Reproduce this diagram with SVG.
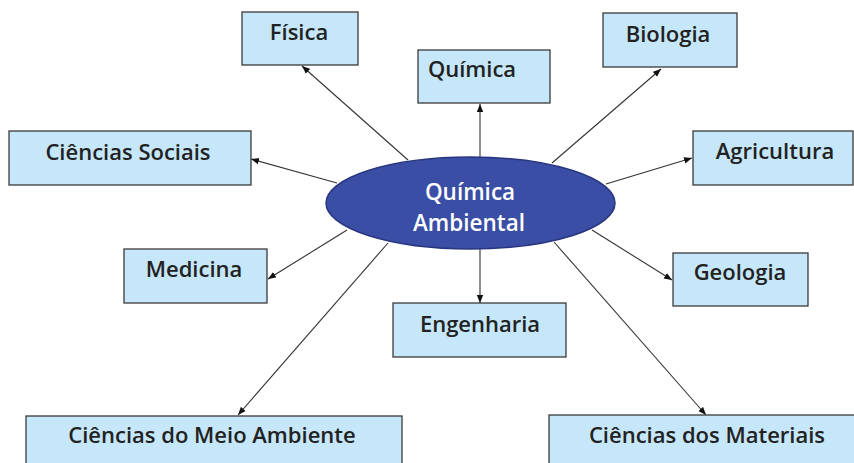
<svg xmlns="http://www.w3.org/2000/svg" width="854" height="463" viewBox="0 0 854 463">
<style>
.box{fill:#c6e7f9;stroke:#3a3a3a;stroke-width:1.3}
.t{font-family:"Open Sans","Liberation Sans",sans-serif;font-weight:600;font-size:22px;fill:#222;text-anchor:middle}
.w{fill:#fff;font-size:22.5px}
.c{stroke:#333;stroke-width:1.1;fill:none;marker-end:url(#ah)}
</style>
<defs>
<marker id="ah" viewBox="0 0 10 10" refX="10" refY="5" markerWidth="8" markerHeight="8" markerUnits="userSpaceOnUse" orient="auto">
<path d="M0,1 L10,5 L0,9 z" fill="#111"/>
</marker>
</defs>
<rect width="854" height="463" fill="#fff"/>
<g id="connectors">
<line class="c" x1="408" y1="160" x2="302" y2="66"/>
<line class="c" x1="337" y1="183" x2="251" y2="159"/>
<line class="c" x1="480" y1="157" x2="480" y2="104"/>
<line class="c" x1="552" y1="163" x2="661" y2="69"/>
<line class="c" x1="606" y1="184" x2="692" y2="158"/>
<line class="c" x1="347" y1="230" x2="268" y2="279"/>
<line class="c" x1="388" y1="243" x2="238" y2="415"/>
<line class="c" x1="480" y1="249" x2="480" y2="303"/>
<line class="c" x1="592" y1="230" x2="672" y2="280"/>
<line class="c" x1="554" y1="242" x2="706" y2="415"/>
</g>
<g id="fisica"><rect class="box" x="242" y="12" width="116" height="53"/><text class="t" x="299" y="40">Física</text></g>
<g id="quimica"><rect class="box" x="418" y="50" width="132" height="53"/><text class="t" x="472" y="77">Química</text></g>
<g id="biologia"><rect class="box" x="603" y="13" width="134" height="54"/><text class="t" x="668" y="42">Biologia</text></g>
<g id="ciencias-sociais"><rect class="box" x="9" y="131" width="242" height="54"/><text class="t" x="128" y="160">Ciências Sociais</text></g>
<g id="agricultura"><rect class="box" x="693" y="131" width="160" height="54"/><text class="t" x="775" y="159">Agricultura</text></g>
<g id="medicina"><rect class="box" x="124" y="249" width="143" height="54"/><text class="t" x="194" y="277">Medicina</text></g>
<g id="engenharia"><rect class="box" x="393" y="303" width="173" height="54"/><text class="t" x="480" y="332">Engenharia</text></g>
<g id="geologia"><rect class="box" x="673" y="253" width="135" height="53"/><text class="t" x="740" y="280">Geologia</text></g>
<g id="meio-ambiente"><rect class="box" x="26" y="416" width="376" height="60"/><text class="t" x="212" y="443">Ciências do Meio Ambiente</text></g>
<g id="materiais"><rect class="box" x="549" y="415" width="320" height="60"/><text class="t" x="707" y="443">Ciências dos Materiais</text></g>
<g id="quimica-ambiental"><ellipse cx="470.5" cy="203" rx="144.5" ry="46" fill="#3a4ea5" stroke="#28367f" stroke-width="1.5"/><text class="t w" x="470" y="200">Química</text><text class="t w" x="469" y="231">Ambiental</text></g>
</svg>
